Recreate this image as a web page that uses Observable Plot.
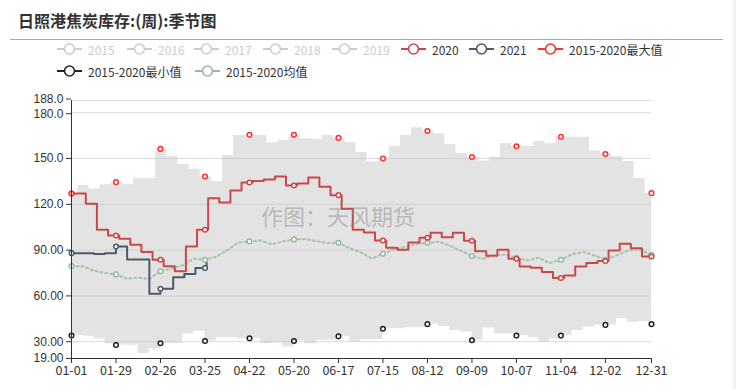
<!DOCTYPE html>
<html>
<head>
<meta charset="utf-8">
<script src="https://cdn.jsdelivr.net/npm/d3@7"></script>
<script src="https://cdn.jsdelivr.net/npm/@observablehq/plot@0.6"></script>
<style>
  html, body { margin: 0; padding: 0; background: #fff; }
  body { font-family: "Noto Sans CJK SC", "Noto Sans", sans-serif; }
  #wrap { position: relative; width: 736px; height: 389px; overflow: hidden; }
  #chart { position: absolute; left: 0; top: 0; }
  #title { position: absolute; left: 18px; top: 10px; font-size: 16px; font-weight: bold; color: #333; line-height: 20px; white-space: nowrap; }
  #hr { position: absolute; left: 10px; top: 39px; width: 713px; height: 1px; background: #aaa; }
  #edge { position: absolute; left: 733px; top: 0; width: 3px; height: 389px; background: #f3f3f3; }
  .leg { position: absolute; height: 14px; display: flex; align-items: center; font-size: 12px; white-space: nowrap; }
  .leg svg { margin-right: 6px; }
  #wm { position: absolute; left: 261px; top: 202px; font-size: 22px; color: rgba(120,120,120,0.42); white-space: nowrap; line-height: 26px; }
</style>
</head>
<body>
<div id="wrap">
  <div id="chart"></div>
  <div id="title"></div>
  <div id="hr"></div>
  <div id="edge"></div>
  <div id="wm"></div>
</div>
<script>
// ---------------- data ----------------
const titleText = "日照港焦炭库存:(周):季节图";
const watermarkText = "作图：天风期货";

const legendNames = ["2015", "2016", "2017", "2018", "2019", "2020", "2021",
                     "2015-2020最大值", "2015-2020最小值", "2015-2020均值"];
const legendHidden = [true, true, true, true, true, false, false, false, false, false];

const xTickLabels = ["01-01", "01-29", "02-26", "03-25", "04-22", "05-20", "06-17",
                     "07-15", "08-12", "09-09", "10-07", "11-04", "12-02", "12-31"];
const yTicks = [19, 30, 60, 90, 120, 150, 180, 188];
const yTickLabels = ["19.00", "30.00", "60.00", "90.00", "120.0", "150.0", "180.0", "188.0"];

// weekly values: first at 01-01, then weekly from the given first report date
const first2020 = "2020-01-10";
const values2020 = [127, 120.3, 103.3, 99.6, 97.4, 93.5, 88.7, 83.7, 79.5, 76.2,
  92.4, 103.3, 124, 121.2, 129.1, 134.3, 135.2, 136.3, 138.2, 132.3,
  133.6, 137.6, 131.5, 126, 117.1, 103.3, 101.6, 96.3, 91.5, 90.2,
  95, 98.1, 101.3, 98.5, 101.3, 96.1, 89.3, 86.3, 90.2, 84.3,
  79.3, 78.4, 75.6, 71.7, 73.4, 79.3, 81.5, 82.8, 89.8, 94.1,
  91.3, 85.8];

const first2021 = "2021-01-08";
const values2021 = [88.0, 88.0, 87.4, 88.0, 92.4, 83.9, 83.9, 61.4, 64.7, 72.3, 74.3, 78.3, 82.0];

const firstMax = "2020-01-05";
const maxValues = [127, 132.3, 130.1, 132.8, 134.5, 132.8, 136.8, 136.8, 156.3, 151.3,
  146, 143, 138.2, 134.9, 152, 165.1, 165.5, 165.1, 160.3, 161.8,
  165.5, 163, 162.5, 165, 163.5, 160.5, 153.9, 147.8, 150, 157.8,
  165.1, 170.1, 168, 166.3, 159.2, 153.3, 151, 148.3, 151, 159.8,
  158, 157.9, 161.1, 159.6, 164.2, 164, 164, 155, 153, 151.3,
  148, 136.9, 127.3];

const firstMin = "2020-01-08";
const minValues = [34, 33.5, 32, 28.7, 27.8, 27.6, 22.1, 25.4, 29, 29,
  35, 36.8, 30.5, 32.6, 32.6, 32, 32.2, 28.7, 29.1, 26.5,
  30.5, 28.7, 30.9, 30.9, 33.5, 29.8, 31.3, 31.3, 38.5, 38.5,
  39.2, 39.2, 41.5, 40, 37.4, 36.3, 31, 39, 35.2, 35.2,
  34, 32.6, 29.8, 32, 34, 37.4, 39.6, 40.7, 41, 45,
  42.8, 43.3, 41.5];

const firstAvg = "2020-01-08";
const avgValues = [79.5, 79.5, 76.5, 75, 74.1, 71.2, 72, 71, 76.2, 78,
  80, 84.5, 83.7, 85.5, 90, 95, 95.7, 96.3, 93.7, 95.7,
  97, 97.2, 96, 94.6, 94.8, 91.3, 88.5, 84.5, 87.6, 90.5,
  92, 94, 94.8, 95.5, 93, 89.5, 86.1, 84.3, 86.5, 87,
  85, 83.2, 85, 81.5, 83.7, 87.3, 88.7, 86.5, 83.7, 86.5,
  89.5, 90.9, 87];

// ---------------- styles ----------------
const colors = {
  hidden: "#cccccc", c2020: "#c9484a", c2021: "#4b5a69",
  max: "#ff3030", min: "#222222", avg: "#93bb9d",
  band: "#e3e3e3", text: "#333333"
};
const legendColors = [colors.hidden, colors.hidden, colors.hidden, colors.hidden, colors.hidden,
  colors.c2020, colors.c2021, colors.max, colors.min, colors.avg];
const legendLayout = [[57, 49], [127, 49], [194, 49], [263, 49], [332, 49],
  [401, 49], [469, 49], [538, 49], [57, 71], [195, 71]];
const tickFont = '"Liberation Sans", Arial, sans-serif';

// ---------------- helpers ----------------
const utc = s => new Date(s + "T00:00:00Z");
const onAxis = d => new Date(Date.UTC(2020, d.getUTCMonth(), d.getUTCDate()));
const start = new Date(Date.UTC(2020, 0, 1));
const end = new Date(Date.UTC(2020, 11, 31));
function weekly(firstDate, values, extend) {
  const f = utc(firstDate);
  const pts = values.map((v, k) => ({
    date: k === 0 ? start : onAxis(d3.utcDay.offset(f, 7 * (k - 1))),
    value: v
  }));
  if (extend) pts.push({date: end, value: values[values.length - 1]});
  return pts;
}
const s2020 = weekly(first2020, values2020, true);
const s2021 = weekly(first2021, values2021, false);
const sMax = weekly(firstMax, maxValues, true);
const sMin = weekly(firstMin, minValues, true);
const sAvg = weekly(firstAvg, avgValues, true);

const tickDates = xTickLabels.map(s => utc("2020-" + s));
const tickLabelOf = new Map(tickDates.map((d, i) => [+d, xTickLabels[i]]));
const yLabelOf = new Map(yTicks.map((v, i) => [v, yTickLabels[i]]));
const yTop = yTicks[yTicks.length - 1];
const yNext = yTicks[yTicks.length - 2];

function sample(series, t) {
  let v;
  for (const p of series) if (p.date <= t) v = p.value;
  return v;
}
function markers(series, color) {
  const last = series[series.length - 1].date;
  return tickDates.filter(t => t <= last).map(t => ({date: t, value: sample(series, t), color}));
}
const marks2020 = markers(s2020, colors.c2020);
const marks2021 = markers(s2021, colors.c2021);
const marksMax = markers(sMax, colors.max);
const marksMin = markers(sMin, colors.min);
const marksAvg = markers(sAvg, colors.avg);

const yAxisCommon = {tickFormat: v => yLabelOf.get(v), tickSize: 5, tickPadding: 3, stroke: colors.text, fill: colors.text, label: null, fontFamily: tickFont, fontSize: 12};

// ---------------- chart ----------------
const chart = Plot.plot({
  width: 736,
  height: 389,
  marginLeft: 71,
  marginRight: 85,
  marginTop: 100,
  marginBottom: 31,
  x: {type: "utc", domain: [start, end], label: null},
  y: {domain: [19, 188], label: null},
  style: {fontSize: "12px", fontFamily: '"Noto Sans CJK SC", "Noto Sans", sans-serif', color: colors.text, background: "transparent", overflow: "visible"},
  marks: [
    Plot.areaY(sMax, {x: "date", y1: () => 19, y2: "value", curve: "step-after", fill: colors.band}),
    Plot.areaY(sMin, {x: "date", y1: () => 19, y2: "value", curve: "step-after", fill: "#ffffff"}),
    Plot.ruleY(yTicks.filter(v => v > 19), {stroke: "#c8c8c8", strokeOpacity: 0.65}),
    Plot.line(sAvg, {x: "date", y: "value", stroke: colors.avg, strokeWidth: 2, strokeDasharray: "2,3", strokeOpacity: 0.8}),
    Plot.line(s2021, {x: "date", y: "value", curve: "step-after", stroke: colors.c2021, strokeWidth: 2}),
    Plot.line(s2020, {x: "date", y: "value", curve: "step-after", stroke: colors.c2020, strokeWidth: 2}),
    Plot.dot([...marksAvg, ...marks2021, ...marks2020, ...marksMax, ...marksMin],
      {x: "date", y: "value", r: 2.3, fill: "#ffffff", stroke: "color", strokeWidth: 1.5}),
    Plot.ruleX([start], {stroke: colors.text}),
    Plot.ruleY([19], {stroke: colors.text}),
    Plot.axisY({...yAxisCommon, ticks: yTicks.filter(v => v !== yTop && v !== yNext)}),
    Plot.axisY({...yAxisCommon, ticks: [yNext], dy: 1}),
    Plot.axisY({...yAxisCommon, ticks: [yTop], dy: -1.5}),
    Plot.axisX({ticks: tickDates, tickFormat: d => tickLabelOf.get(+d), tickSize: 5, tickPadding: 3, stroke: colors.text, fill: colors.text, fontSize: 12.5, label: null})
  ]
});
document.getElementById("chart").appendChild(chart);

// ---------------- title, legend, watermark ----------------
document.getElementById("title").textContent = titleText;
document.getElementById("wm").textContent = watermarkText;
const wrap = document.getElementById("wrap");
legendNames.forEach((name, i) => {
  const [x, y] = legendLayout[i];
  const c = legendColors[i];
  const item = document.createElement("div");
  item.className = "leg";
  item.style.left = x + "px";
  item.style.top = (y - 7) + "px";
  item.style.color = legendHidden[i] ? colors.hidden : colors.text;
  item.innerHTML = `<svg width="25" height="14"><line x1="0" x2="25" y1="7" y2="7" stroke="${c}" stroke-width="2"/>` +
    `<circle cx="12.5" cy="7" r="5" fill="#fff" stroke="${c}" stroke-width="1.6"/></svg><span>${name}</span>`;
  wrap.appendChild(item);
});
</script>
</body>
</html>
